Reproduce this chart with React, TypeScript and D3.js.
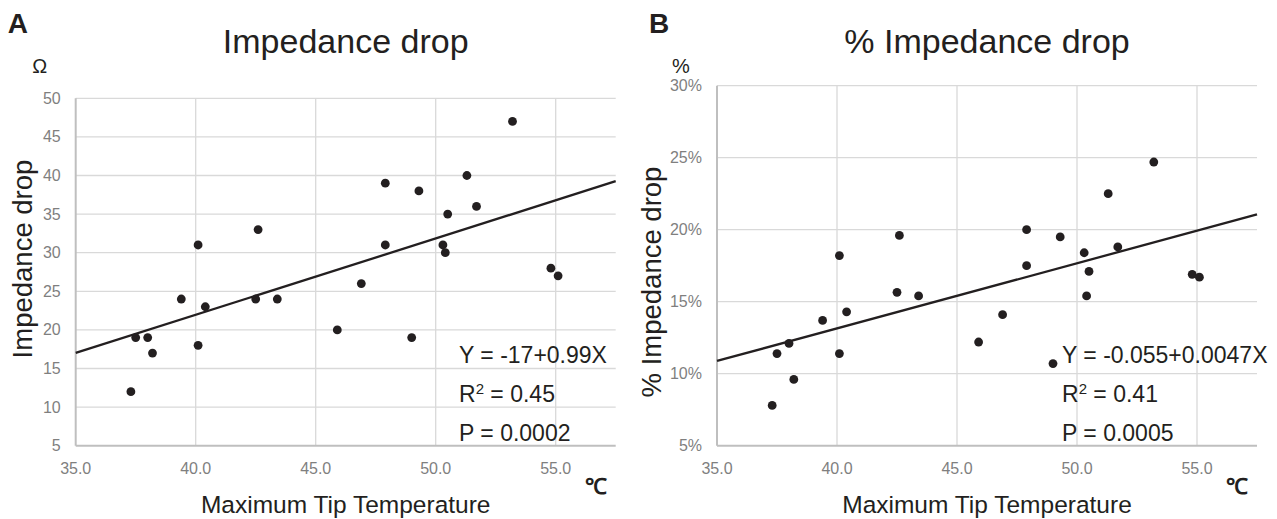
import React from 'react';
import * as d3 from 'd3';

// maximum tip temperature (°C), shared by both panels
const temps = [37.3, 37.5, 38.0, 38.2, 39.4, 40.1, 40.1, 40.4, 42.5, 42.6, 43.4, 45.9, 46.9,
  47.9, 47.9, 49.0, 49.3, 50.3, 50.4, 50.5, 51.3, 51.7, 53.2, 54.8, 55.1];
// impedance drop (ohm)
const dropOhm = [12, 19, 19, 17, 24, 31, 18, 23, 24, 33, 24, 20, 26,
  39, 31, 19, 38, 31, 30, 35, 40, 36, 47, 28, 27];
// % impedance drop
const dropPct = [7.8, 11.4, 12.1, 9.6, 13.7, 18.2, 11.4, 14.3, 15.65, 19.6, 15.4, 12.2, 14.1,
  20.0, 17.5, 10.7, 19.5, 18.4, 15.4, 17.1, 22.5, 18.8, 24.7, 16.9, 16.7];

const xTicks = [35, 40, 45, 50, 55];
const ohmTicks = [5, 10, 15, 20, 25, 30, 35, 40, 45, 50];
const pctTicks = [5, 10, 15, 20, 25, 30];

const statsA = ['Y = -17+0.99X', '0.45', 'P = 0.0002'];
const statsB = ['Y = -0.055+0.0047X', '0.41', 'P = 0.0005'];

const font = '"Liberation Sans", Arial, sans-serif';
const gray = '#7f7f7f';
const ink = '#231f20';

const fit = (xs: number[], ys: number[]) => {
  const mx = d3.mean(xs)!;
  const my = d3.mean(ys)!;
  const b = d3.sum(xs, (x, i) => (x - mx) * (ys[i] - my)) / d3.sum(xs, x => (x - mx) ** 2);
  return { a: my - b * mx, b };
};

type PanelProps = {
  letter: string; title: string; yTitle: string; unit: string;
  left: number; top: number; ys: number[]; yTicks: number[]; fmt: (d: number) => string;
  stats: string[]; statsX: number; yTitleX: number; yTitleY: number;
};

const Panel = (p: PanelProps) => {
  const right = p.left + 540;
  const bottom = 445.7;
  const x = d3.scaleLinear().domain([35, 57.5]).range([p.left, right]);
  const y = d3.scaleLinear().domain([p.yTicks[0], p.yTicks[p.yTicks.length - 1]]).range([bottom, p.top]);
  const { a, b } = fit(temps, p.ys);
  const line = d3.line<number>().x(d => x(d)).y(d => y(a + b * d));
  const cx = (p.left + right) / 2;
  return (
    <g fontFamily={font}>
      <text x={p.left - 68} y={33} fontSize={28} fontWeight="bold" fill={ink}>{p.letter}</text>
      <text x={cx} y={53} fontSize={34} textAnchor="middle" fill={ink}>{p.title}</text>
      <text x={p.left - 36} y={73} fontSize={20} textAnchor="middle" fill={ink}>{p.unit}</text>
      {p.yTicks.slice(1).map(t => (
        <line key={'h' + t} x1={p.left} x2={right} y1={y(t)} y2={y(t)} stroke="#d9d9d9" strokeWidth={1.3} />
      ))}
      {xTicks.slice(1).map(t => (
        <line key={'v' + t} x1={x(t)} x2={x(t)} y1={p.top} y2={bottom} stroke="#d9d9d9" strokeWidth={1.3} />
      ))}
      <line x1={p.left} x2={p.left} y1={p.top} y2={bottom} stroke="#bfbfbf" strokeWidth={2} />
      <line x1={p.left} x2={right} y1={bottom} y2={bottom} stroke="#bfbfbf" strokeWidth={2} />
      {p.yTicks.map(t => (
        <text key={'yl' + t} x={p.left - 15} y={y(t) + 5.5} fontSize={16} textAnchor="end" fill={gray}>{p.fmt(t)}</text>
      ))}
      {xTicks.map(t => (
        <text key={'xl' + t} x={x(t)} y={474} fontSize={16} textAnchor="middle" fill={gray}>{t.toFixed(1)}</text>
      ))}
      <path d={line([35, 57.5]) || ''} stroke={ink} strokeWidth={2.3} fill="none" />
      {temps.map((t, i) => (
        <circle key={i} cx={x(t)} cy={y(p.ys[i])} r={4.4} fill={ink} />
      ))}
      <text x={p.statsX} y={363} fontSize={23} fill={ink}>{p.stats[0]}</text>
      <text x={p.statsX} y={402} fontSize={23} fill={ink}>
        R<tspan fontSize={15} dy={-8}>2</tspan><tspan dy={8}> = {p.stats[1]}</tspan>
      </text>
      <text x={p.statsX} y={441} fontSize={23} fill={ink}>{p.stats[2]}</text>
      <text transform={`translate(${p.yTitleX},${p.yTitleY}) rotate(-90)`} fontSize={27.5} textAnchor="middle" fill={ink}>{p.yTitle}</text>
      <text x={cx} y={513} fontSize={24.5} textAnchor="middle" fill={ink}>Maximum Tip Temperature</text>
      <text x={right - 31} y={494} fontSize={22} fontWeight="bold" fill={ink}>℃</text>
    </g>
  );
};

export default function App() {
  return (
    <svg width={1277} height={519} style={{ position: 'absolute', left: 0, top: 0, background: '#fff' }}>
      <Panel letter="A" title="Impedance drop" yTitle="Impedance drop" unit="Ω"
        left={75.7} top={98.3} ys={dropOhm} yTicks={ohmTicks} fmt={d => String(d)}
        stats={statsA} statsX={459} yTitleX={32} yTitleY={259} />
      <Panel letter="B" title="% Impedance drop" yTitle="% Impedance drop" unit="%"
        left={717} top={85.7} ys={dropPct} yTicks={pctTicks} fmt={d => d + '%'}
        stats={statsB} statsX={1062} yTitleX={661} yTitleY={282} />
    </svg>
  );
}
